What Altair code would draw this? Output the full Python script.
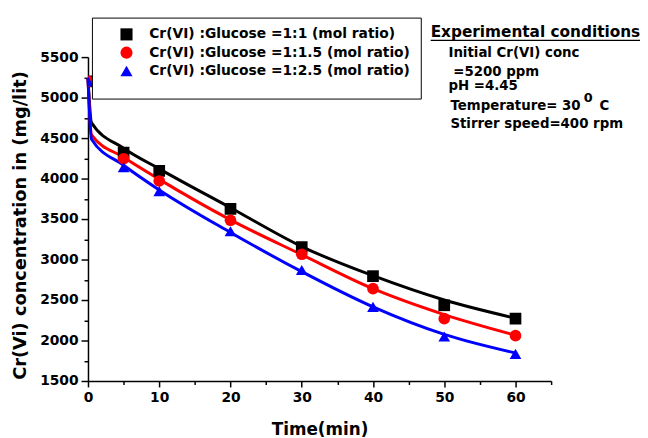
import altair as alt
import pandas as pd

# ---------------- data ----------------
series = [
    "Cr(VI) :Glucose =1:1 (mol ratio)",
    "Cr(VI) :Glucose =1:1.5 (mol ratio)",
    "Cr(VI) :Glucose =1:2.5 (mol ratio)",
]
colors = ["#000000", "#ff0000", "#0000ff"]
shapes = ["square", "circle", "triangle-up"]

# measured points
time_points = [0, 5, 10, 20, 30, 40, 50, 60]
conc_1_1 = [5200, 4320, 4095, 3625, 3155, 2795, 2435, 2270]
conc_1_15 = [5200, 4245, 3970, 3485, 3065, 2640, 2270, 2060]
conc_1_25 = [5200, 4140, 3845, 3350, 2870, 2415, 2050, 1835]

# fitted curves
fit_time = [0, 0.5, 5, 10, 20, 30, 40, 50, 60]
fit_1_1 = [5240, 4690, 4375, 4120, 3640, 3160, 2800, 2500, 2275]
fit_1_15 = [5240, 4540, 4262, 3990, 3490, 3060, 2640, 2320, 2065]
fit_1_25 = [5240, 4485, 4165, 3860, 3335, 2850, 2415, 2075, 1845]

x_major = [0, 10, 20, 30, 40, 50, 60]
x_minor = [5, 15, 25, 35, 45, 55, 65]
y_major = [1500, 2000, 2500, 3000, 3500, 4000, 4500, 5000, 5500]
y_minor = [1750, 2250, 2750, 3250, 3750, 4250, 4750, 5250]

x_title = "Time(min)"
y_title = "Cr(Vi) concentration in (mg/lit)"
cond_title = "Experimental conditions"
cond_lines = ["Initial Cr(VI) conc", "=5200 ppm", "pH =4.45", "Temperature= 30", "Stirrer speed=400 rpm"]
cond_sup = "0"
cond_unit = "C"

FONT = "DejaVu Sans"

pts = pd.DataFrame({
    "time": time_points * 3,
    "conc": conc_1_1 + conc_1_15 + conc_1_25,
    "series": [s for s in series for _ in time_points],
})
fit = pd.DataFrame({
    "time": fit_time * 3,
    "conc": fit_1_1 + fit_1_15 + fit_1_25,
    "series": [s for s in series for _ in fit_time],
})

xscale = alt.Scale(domain=[0, 65], nice=False, zero=False)
yscale = alt.Scale(domain=[1500, 5500], nice=False, zero=False)

common = dict(domainColor="black", domainWidth=1.5, tickColor="black", tickWidth=1.5,
              grid=False, labelFont=FONT, labelFontWeight="bold", labelColor="black",
              titleFont=FONT, titleFontWeight="bold", titleColor="black")

x_axis = alt.Axis(values=x_major, tickSize=6, labelFontSize=14, labelPadding=4,
                  title=x_title, titleFontSize=17, titlePadding=17, labelFlush=False,
                  format="d", orient="bottom", **common)
y_axis = alt.Axis(values=y_major, tickSize=7, labelFontSize=14, labelPadding=3,
                  title=y_title, titleFontSize=18, titlePadding=10, titleY=170, format="d",
                  orient="left", **common)
x_minor_axis = alt.Axis(values=x_minor, tickSize=3.5, labels=False, domain=False, title=None,
                        grid=False, tickColor="black", tickWidth=1.5, orient="bottom")
y_minor_axis = alt.Axis(values=y_minor, tickSize=4, labels=False, domain=False, title=None,
                        grid=False, tickColor="black", tickWidth=1.5, orient="left")

line_layers = []
for i, s in enumerate(series):
    line_layers.append(
        alt.Chart(fit).transform_filter(alt.datum.series == s)
        .mark_line(strokeWidth=3, interpolate="monotone", color=colors[i])
        .encode(
            x=alt.X("time:Q", scale=xscale, axis=x_axis if i == 0 else None),
            y=alt.Y("conc:Q", scale=yscale, axis=y_axis if i == 0 else None),
        )
    )

legend = alt.Legend(orient="none", legendX=4, legendY=-40, title=" ", titleOrient="bottom",
                    titleFontSize=6, titlePadding=5, padding=10, strokeColor="black",
                    fillColor="white", labelFont=FONT, labelFontWeight="bold",
                    labelFontSize=14, labelColor="black", labelLimit=400, symbolSize=150,
                    symbolOffset=18, labelOffset=16, rowPadding=4.5)

points = alt.Chart(pts).mark_point(filled=True, size=140, opacity=1, clip=True).encode(
    x=alt.X("time:Q", scale=xscale, axis=x_minor_axis),
    y=alt.Y("conc:Q", scale=yscale, axis=y_minor_axis),
    color=alt.Color("series:N", scale=alt.Scale(domain=series, range=colors), legend=legend),
    shape=alt.Shape("series:N", scale=alt.Scale(domain=series, range=shapes), legend=legend),
)


def label(text, x, y, size):
    return alt.Chart(pd.DataFrame({"t": [text]})).mark_text(
        align="left", baseline="alphabetic", font=FONT, fontWeight="bold",
        fontSize=size, color="black",
    ).encode(x=alt.value(x), y=alt.value(y), text="t:N")


texts = [
    label(cond_title, 347, -20, 15.5),
    label(cond_lines[0], 365, 0, 13.5),
    label(cond_lines[1], 370, 19, 13.5),
    label(cond_lines[2], 365, 33, 13.5),
    label(cond_lines[3], 367, 54, 13.5),
    label(cond_sup, 502, 45, 13),
    label(cond_unit, 518, 54, 13.5),
    label(cond_lines[4], 367, 72, 13.5),
]

underline = alt.Chart(pd.DataFrame({"t": [0]})).mark_rule(color="black", strokeWidth=1.3).encode(
    x=alt.value(347), x2=alt.value(560), y=alt.value(-17)
)

chart = (
    alt.layer(*line_layers, points, underline, *texts)
    .resolve_axis(x="independent", y="independent")
    .properties(
        width=469, height=328,
        autosize=alt.AutoSizeParams(type="none"),
        padding={"left": 81, "top": 47, "right": 90, "bottom": 55},
    )
    .configure_view(strokeWidth=0)
)

chart.save("out.html", embed_options={"renderer": "svg", "actions": False})
